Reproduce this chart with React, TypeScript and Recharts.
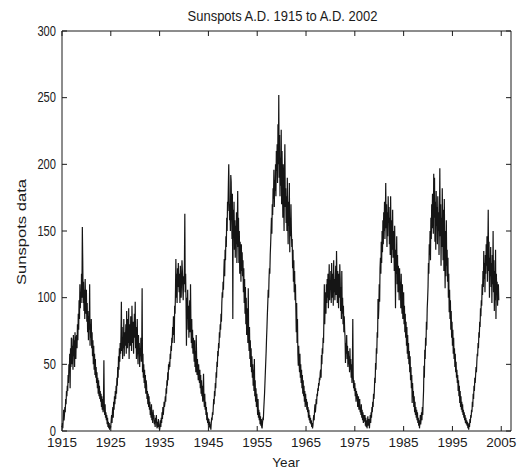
import { Line, LineChart, XAxis, YAxis } from "recharts";

// monthly sunspot numbers, one row per year
const spots1915 = [
  3, 6, 2, 9, 16, 8, 12, 18, 14, 24, 20, 30,
  26, 34, 30, 42, 36, 50, 44, 58, 32, 62, 48, 70,
  69, 50, 64, 46, 72, 56, 68, 48, 74, 60, 54, 70,
  72, 62, 80, 68, 88, 76, 98, 84, 110, 92, 104, 96,
  118, 100, 153, 128, 96, 112, 90, 106, 84, 114, 94, 88,
  106, 82, 96, 74, 90, 68, 86, 76, 110, 64, 80, 70,
  84, 62, 74, 56, 68, 50, 64, 46, 58, 42, 54, 40,
  48, 36, 44, 32, 40, 28, 38, 26, 34, 24, 30, 22,
  28, 18, 26, 16, 24, 14, 22, 53, 18, 12, 20, 10,
  14, 8, 12, 5, 10, 3, 7, 2, 6, 1, 4, 2
];
const spots1925 = [
  4, 8, 12, 6, 14, 18, 10, 22, 16, 26, 20, 30,
  24, 34, 28, 40, 34, 48, 40, 56, 46, 62, 52, 66,
  58, 72, 97, 60, 78, 54, 70, 62, 84, 56, 74, 64,
  68, 80, 58, 90, 70, 62, 84, 66, 92, 54, 72, 80,
  64, 86, 72, 60, 94, 76, 66, 82, 58, 74, 88, 70,
  97, 62, 78, 54, 68, 84, 60, 50, 72, 58, 66, 48,
  62, 56, 70, 52, 60, 107, 44, 58, 40, 50, 36, 46,
  32, 42, 28, 38, 34, 24, 30, 20, 28, 18, 26, 16,
  22, 12, 18, 10, 20, 8, 14, 6, 16, 10, 12, 5,
  8, 3, 10, 6, 12, 4, 2, 7, 3, 9, 5, 2
];
const spots1935 = [
  1, 4, 8, 3, 10, 6, 14, 9, 18, 12, 16, 22,
  18, 21, 26, 22, 32, 28, 38, 34, 44, 38, 50, 46,
  52, 48, 58, 54, 64, 60, 70, 66, 78, 72, 86, 80,
  66, 94, 88, 104, 129, 100, 118, 96, 122, 108, 126, 112,
  104, 118, 96, 124, 108, 100, 114, 128, 120, 106, 98, 116,
  110, 124, 163, 104, 118, 96, 64, 100, 84, 106, 76, 94,
  70, 88, 98, 74, 110, 80, 66, 84, 62, 76, 58, 70,
  64, 52, 68, 48, 60, 44, 72, 56, 42, 54, 46, 38,
  50, 40, 36, 46, 32, 42, 28, 38, 26, 34, 22, 30,
  43, 24, 18, 28, 16, 22, 12, 18, 8, 14, 6, 10
];
const spots1945 = [
  4, 9, 3, 7, 2, 5, 1, 6, 10, 8, 14, 12,
  18, 24, 20, 30, 26, 36, 32, 44, 40, 52, 48, 60,
  56, 66, 62, 74, 70, 80, 76, 88, 82, 96, 104, 100,
  112, 106, 120, 129, 116, 136, 128, 146, 138, 160, 150, 172,
  165, 184, 200, 176, 158, 170, 150, 192, 187, 162, 144, 178,
  84, 166, 148, 172, 136, 158, 130, 154, 140, 164, 126, 150,
  180, 138, 160, 126, 150, 118, 142, 130, 112, 140, 120, 134,
  116, 128, 104, 122, 96, 114, 88, 108, 80, 100, 72, 92,
  84, 66, 107, 70, 60, 78, 54, 68, 48, 62, 44, 56,
  40, 50, 34, 46, 30, 54, 26, 38, 22, 32, 18, 28
];
const spots1955 = [
  20, 12, 24, 10, 16, 8, 14, 5, 11, 4, 9, 3,
  2, 6, 10, 8, 16, 22, 28, 36, 44, 52, 60, 70,
  78, 88, 96, 106, 100, 114, 122, 118, 132, 140, 150, 160,
  148, 170, 162, 182, 174, 196, 168, 188, 180, 200, 176, 210,
  195, 215, 186, 230, 200, 252, 190, 222, 176, 205, 184, 226,
  170, 210, 188, 160, 200, 178, 150, 194, 215, 168, 182, 156,
  176, 150, 190, 162, 140, 172, 154, 186, 134, 160, 146, 170,
  150, 138, 144, 122, 136, 112, 128, 104, 120, 98, 110, 92,
  74, 96, 66, 84, 58, 49, 64, 52, 44, 58, 40, 50,
  36, 46, 32, 42, 28, 38, 26, 34, 22, 30, 18, 28
];
const spots1965 = [
  20, 24, 16, 22, 14, 18, 10, 16, 8, 12, 6, 10,
  5, 8, 3, 6, 2, 4, 9, 12, 8, 16, 20, 14,
  18, 24, 20, 28, 26, 32, 30, 36, 34, 40, 38, 44,
  46, 40, 57, 50, 62, 58, 70, 66, 84, 110, 80, 96,
  104, 88, 110, 96, 114, 100, 118, 92, 108, 125, 98, 112,
  106, 120, 96, 126, 110, 100, 118, 94, 128, 104, 114, 98,
  110, 124, 102, 135, 116, 96, 120, 106, 92, 118, 100, 125,
  114, 90, 108, 84, 120, 88, 100, 80, 94, 74, 86, 76,
  70, 51, 66, 58, 72, 54, 64, 48, 60, 50, 56, 44,
  62, 46, 54, 40, 50, 36, 48, 84, 42, 32, 38, 30
];
const spots1975 = [
  36, 26, 32, 22, 30, 24, 28, 18, 21, 26, 16, 20,
  24, 14, 18, 12, 20, 10, 16, 8, 14, 6, 12, 9,
  7, 12, 4, 10, 3, 8, 2, 6, 11, 4, 9, 5,
  2, 8, 12, 6, 14, 10, 18, 14, 22, 18, 28, 24,
  30, 40, 36, 51, 46, 62, 58, 74, 70, 99, 84, 92,
  110, 97, 122, 130, 118, 142, 126, 150, 134, 158, 140, 164,
  150, 172, 144, 160, 186, 152, 170, 138, 164, 146, 176, 156,
  168, 140, 160, 132, 176, 148, 126, 158, 136, 166, 130, 150,
  142, 120, 154, 128, 92, 136, 118, 146, 110, 132, 104, 124,
  116, 98, 122, 106, 112, 92, 118, 100, 88, 110, 84, 96
];
const spots1985 = [
  104, 80, 94, 74, 88, 70, 82, 64, 78, 58, 72, 54,
  66, 50, 60, 44, 56, 38, 48, 32, 42, 21, 36, 26,
  30, 18, 26, 14, 22, 12, 18, 10, 16, 8, 14, 6,
  10, 4, 8, 2, 6, 12, 5, 9, 14, 8, 18, 12,
  22, 30, 49, 40, 61, 54, 70, 64, 82, 76, 92, 99,
  108, 126, 118, 140, 132, 150, 128, 160, 144, 170, 152, 178,
  165, 148, 193, 160, 190, 142, 172, 136, 180, 154, 168, 140,
  176, 150, 164, 132, 158, 197, 146, 170, 124, 160, 138, 182,
  154, 128, 166, 120, 174, 140, 107, 150, 116, 158, 124, 136,
  112, 130, 100, 118, 89, 106, 84, 98, 76, 90, 70, 82
];
const spots1995 = [
  64, 76, 58, 70, 54, 62, 48, 58, 44, 52, 40, 46,
  36, 42, 30, 38, 26, 34, 21, 30, 18, 26, 16, 22,
  14, 20, 12, 16, 10, 14, 8, 12, 6, 10, 5, 8,
  4, 7, 2, 5, 1, 6, 3, 9, 6, 12, 10, 16,
  14, 22, 18, 28, 24, 34, 30, 40, 36, 42, 48, 44,
  52, 58, 56, 66, 62, 74, 70, 82, 78, 92, 86, 98,
  94, 110, 102, 120, 108, 135, 114, 126, 104, 132, 118, 140,
  124, 146, 112, 134, 166, 120, 142, 100, 130, 116, 138, 108,
  126, 96, 132, 110, 150, 104, 128, 90, 120, 98, 136, 84,
  118, 102, 112, 94, 106, 110, 98
];

const yearTicks = [1915, 1925, 1935, 1945, 1955, 1965, 1975, 1985, 1995, 2005];
const spotTicks = [0, 50, 100, 150, 200, 250, 300];

const monthly = [
  ...spots1915, ...spots1925, ...spots1935, ...spots1945, ...spots1955,
  ...spots1965, ...spots1975, ...spots1985, ...spots1995
];
const data = monthly.map((v, i) => ({ year: 1915 + i / 12, spots: v }));

const INK = "#1b1b1b";
const FONT = "'Liberation Sans', Arial, Helvetica, sans-serif";

function BottomTick({ x, y, payload }: any) {
  return (
    <g>
      <line x1={x} y1={y} x2={x} y2={y - 5} stroke={INK} />
      <text x={x} y={y + 6} dy="0.71em" textAnchor="middle" fontSize={13.5} fill={INK}>
        {payload.value}
      </text>
    </g>
  );
}

function TopTick({ x, y }: any) {
  return <line x1={x} y1={y} x2={x} y2={y + 5} stroke={INK} />;
}

function LeftTick({ x, y, payload }: any) {
  const label = String(payload.value);
  return (
    <g>
      <line x1={x} y1={y} x2={x + 5} y2={y} stroke={INK} />
      <text
        x={x - 6}
        y={y}
        dy="0.33em"
        textAnchor="end"
        fontSize={14}
        fill={INK}
        textLength={label.length * 6.2}
        lengthAdjust="spacingAndGlyphs"
      >
        {label}
      </text>
    </g>
  );
}

function RightTick({ x, y }: any) {
  return <line x1={x} y1={y} x2={x - 5} y2={y} stroke={INK} />;
}

export default function App() {
  return (
    <div style={{ position: "absolute", left: 0, top: 0, width: 527, height: 471, background: "#fff", fontFamily: FONT }}>
      <LineChart width={527} height={471} data={data} margin={{ top: 30, right: 15, bottom: 0, left: 0 }}>
        <XAxis
          dataKey="year"
          type="number"
          domain={[1915, 2007]}
          ticks={yearTicks}
          interval={0}
          height={40}
          tickSize={0}
          tickMargin={0}
          tickLine={false}
          axisLine={{ stroke: INK }}
          tick={<BottomTick />}
        />
        {/* top and right axes only close the box (height/width 1 so they render) */}
        <XAxis
          xAxisId="top"
          orientation="top"
          dataKey="year"
          type="number"
          domain={[1915, 2007]}
          ticks={yearTicks}
          interval={0}
          height={1}
          tickSize={0}
          tickMargin={0}
          tickLine={false}
          axisLine={{ stroke: INK }}
          tick={<TopTick />}
        />
        <YAxis
          type="number"
          domain={[0, 300]}
          ticks={spotTicks}
          interval={0}
          width={62}
          tickSize={0}
          tickMargin={0}
          tickLine={false}
          axisLine={{ stroke: INK }}
          tick={<LeftTick />}
        />
        <YAxis
          yAxisId="right"
          orientation="right"
          type="number"
          domain={[0, 300]}
          ticks={spotTicks}
          interval={0}
          width={1}
          tickSize={0}
          tickMargin={0}
          tickLine={false}
          axisLine={{ stroke: INK }}
          tick={<RightTick />}
        />
        <Line
          type="linear"
          dataKey="spots"
          stroke="#151515"
          strokeWidth={1.2}
          dot={false}
          isAnimationActive={false}
        />
        <Line
          xAxisId="top"
          yAxisId="right"
          type="linear"
          dataKey="spots"
          stroke="none"
          dot={false}
          activeDot={false}
          isAnimationActive={false}
        />
      </LineChart>
      <svg width={527} height={471} style={{ position: "absolute", left: 0, top: 0, pointerEvents: "none" }}>
        <text transform="translate(282.5,21) scale(1,1.15)" textAnchor="middle" fontSize={13} fill={INK}>
          Sunspots A.D. 1915 to A.D. 2002
        </text>
        <text x={286} y={467} textAnchor="middle" fontSize={13.5} fill={INK}>
          Year
        </text>
        <text
          transform="translate(26,232) rotate(-90)"
          textAnchor="middle"
          fontSize={13}
          fill={INK}
          textLength={106}
          lengthAdjust="spacingAndGlyphs"
        >
          Sunspots data
        </text>
      </svg>
    </div>
  );
}
